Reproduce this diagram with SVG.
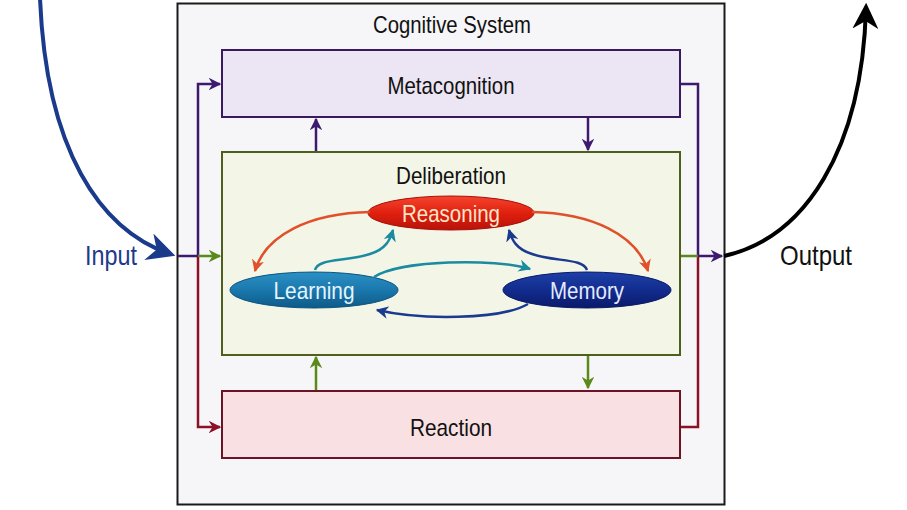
<svg xmlns="http://www.w3.org/2000/svg" width="907" height="510" viewBox="0 0 907 510">
<style>
text{font-family:"Liberation Sans",Arial,sans-serif;text-anchor:middle}
.lbl{font-size:24px;fill:#111}
.in{font-size:24px}
.big{font-size:28px}
.box{stroke-width:2}
.c{fill:none;stroke-width:2.5}
.thick{fill:none;stroke-width:4}
</style>
<defs>
<marker id="aP" viewBox="0 0 10 10" refX="9" refY="5" markerWidth="5" markerHeight="5" orient="auto" markerUnits="strokeWidth"><path d="M0,0 L10,5 L0,10 L3,5z" fill="#3d1a6e"/></marker>
<marker id="aG" viewBox="0 0 10 10" refX="9" refY="5" markerWidth="5" markerHeight="5" orient="auto" markerUnits="strokeWidth"><path d="M0,0 L10,5 L0,10 L3,5z" fill="#5a8a1a"/></marker>
<marker id="aR" viewBox="0 0 10 10" refX="9" refY="5" markerWidth="5" markerHeight="5" orient="auto" markerUnits="strokeWidth"><path d="M0,0 L10,5 L0,10 L3,5z" fill="#8b1028"/></marker>
<marker id="aO" viewBox="0 0 10 10" refX="9" refY="5" markerWidth="5" markerHeight="5" orient="auto" markerUnits="strokeWidth"><path d="M0,0 L10,5 L0,10 L3,5z" fill="#e0502a"/></marker>
<marker id="aT" viewBox="0 0 10 10" refX="9" refY="5" markerWidth="5" markerHeight="5" orient="auto" markerUnits="strokeWidth"><path d="M0,0 L10,5 L0,10 L3,5z" fill="#1c8aa0"/></marker>
<marker id="aB" viewBox="0 0 10 10" refX="9" refY="5" markerWidth="5" markerHeight="5" orient="auto" markerUnits="strokeWidth"><path d="M0,0 L10,5 L0,10 L3,5z" fill="#1a3a90"/></marker>
<marker id="aIn" viewBox="0 0 10 10" refX="8" refY="5" markerWidth="7" markerHeight="7" orient="auto" markerUnits="strokeWidth"><path d="M0,0 L10,5 L0,10 L3,5z" fill="#1a3a8c"/></marker>
<marker id="aK" viewBox="0 0 10 10" refX="8" refY="5" markerWidth="6.5" markerHeight="6.5" orient="auto" markerUnits="strokeWidth"><path d="M0,0 L10,5 L0,10 L3,5z" fill="#000"/></marker>
<linearGradient id="gRed" x1="0" y1="0" x2="0" y2="1"><stop offset="0" stop-color="#f5452e"/><stop offset="0.5" stop-color="#e0200f"/><stop offset="1" stop-color="#b8120a"/></linearGradient>
<linearGradient id="gTeal" x1="0" y1="0" x2="0" y2="1"><stop offset="0" stop-color="#2c90c4"/><stop offset="0.5" stop-color="#1a78ad"/><stop offset="1" stop-color="#0e5a88"/></linearGradient>
<linearGradient id="gNavy" x1="0" y1="0" x2="0" y2="1"><stop offset="0" stop-color="#1e40a8"/><stop offset="0.5" stop-color="#122c8e"/><stop offset="1" stop-color="#0a1a6a"/></linearGradient>
</defs>
<rect width="907" height="510" fill="#fff"/>
<g id="cognitive-system">
<rect x="177.5" y="3.5" width="547" height="501" fill="#f6f5f8" stroke="#1a1a1a" class="box"/>
<text class="lbl" x="452" y="33" textLength="158" lengthAdjust="spacingAndGlyphs">Cognitive System</text>
</g>
<g id="metacognition">
<rect x="222" y="50" width="458" height="67" fill="#ece5f3" stroke="#3a1a5e" class="box"/>
<text class="lbl" x="451" y="94" textLength="127" lengthAdjust="spacingAndGlyphs">Metacognition</text>
</g>
<g id="deliberation">
<rect x="222" y="152" width="458" height="203" fill="#f3f6e6" stroke="#4e5e1c" class="box"/>
<text class="lbl" x="451" y="184" textLength="110" lengthAdjust="spacingAndGlyphs">Deliberation</text>
</g>
<g id="reaction">
<rect x="222" y="391" width="458" height="67" fill="#f8e0e3" stroke="#6a1426" class="box"/>
<text class="lbl" x="451" y="436" textLength="82" lengthAdjust="spacingAndGlyphs">Reaction</text>
</g>
<g id="reasoning">
<ellipse cx="451" cy="213" rx="83" ry="17" fill="url(#gRed)" stroke="#a8100a" stroke-width="1"/>
<text class="in" x="451" y="222" fill="#fde6c8" textLength="98" lengthAdjust="spacingAndGlyphs">Reasoning</text>
</g>
<g id="learning">
<ellipse cx="314" cy="290" rx="84" ry="18" fill="url(#gTeal)" stroke="#0d5580" stroke-width="1"/>
<text class="in" x="314" y="299" fill="#e4f4ff" textLength="81" lengthAdjust="spacingAndGlyphs">Learning</text>
</g>
<g id="memory">
<ellipse cx="587" cy="290" rx="84" ry="18" fill="url(#gNavy)" stroke="#0a1a66" stroke-width="1"/>
<text class="in" x="587" y="299" fill="#e4eaff" textLength="74" lengthAdjust="spacingAndGlyphs">Memory</text>
</g>
<g id="input-label"><text class="big" x="111" y="265" fill="#1f3a8a" textLength="52" lengthAdjust="spacingAndGlyphs">Input</text></g>
<g id="output-label"><text class="big" x="816" y="265" fill="#111" textLength="72" lengthAdjust="spacingAndGlyphs">Output</text></g>
<g id="connectors">
<path class="thick" d="M40,-2 C46,150 100,230 170,254" stroke="#1a3a8c" marker-end="url(#aIn)"/>
<path class="thick" d="M724,256 C805,238 862,150 866,8" stroke="#000" stroke-width="4.5" marker-end="url(#aK)"/>
<path class="c" d="M178,256 L198,256" stroke="#3d1a6e"/>
<path class="c" d="M198,256 L198,84 L220,84" stroke="#3d1a6e" marker-end="url(#aP)"/>
<path class="c" d="M198,256 L220,256" stroke="#5a8a1a" marker-end="url(#aG)"/>
<path class="c" d="M198,257 L198,427 L220,427" stroke="#8b1028" marker-end="url(#aR)"/>
<path class="c" d="M681,84 L698,84 L698,256" stroke="#3d1a6e"/>
<path class="c" d="M681,427 L698,427 L698,257" stroke="#8b1028"/>
<path class="c" d="M681,256 L698,256" stroke="#5a8a1a"/>
<path class="c" d="M698,256 L722,256" stroke="#3d1a6e" marker-end="url(#aP)"/>
<path class="c" d="M316,151 L316,119" stroke="#3d1a6e" marker-end="url(#aP)"/>
<path class="c" d="M588,118 L588,150" stroke="#3d1a6e" marker-end="url(#aP)"/>
<path class="c" d="M316,390 L316,357" stroke="#5a8a1a" marker-end="url(#aG)"/>
<path class="c" d="M588,356 L588,388" stroke="#5a8a1a" marker-end="url(#aG)"/>
<path class="c" d="M370,212 C310,213 265,235 255,271" stroke="#e0502a" marker-end="url(#aO)"/>
<path class="c" d="M532,212 C592,213 637,235 648,271" stroke="#e0502a" marker-end="url(#aO)"/>
<path class="c" d="M315,270 C318,258 345,262 370,254 C386,249 390,240 393,230" stroke="#1c8aa0" marker-end="url(#aT)"/>
<path class="c" d="M587,270 C583,258 555,262 532,254 C516,249 512,240 509,230" stroke="#1a3a90" marker-end="url(#aB)"/>
<path class="c" d="M374,277 C400,260 495,258 530,269" stroke="#1c8aa0" marker-end="url(#aT)"/>
<path class="c" d="M528,304 C500,320 420,320 377,310" stroke="#1a3a90" marker-end="url(#aB)"/>
</g>
</svg>
